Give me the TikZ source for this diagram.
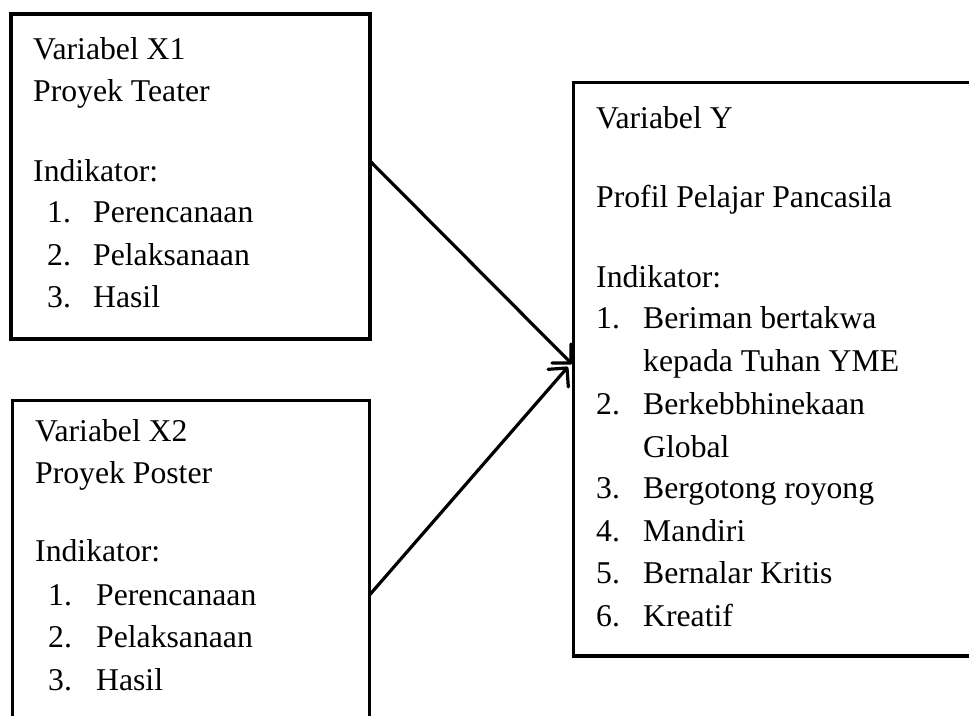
\documentclass[tikz,border=0pt]{standalone}
\usepackage{fontspec}
\setmainfont{Liberation Serif}
\usetikzlibrary{calc}
\begin{document}
\begin{tikzpicture}[x=1pt,y=-1pt,
  box/.style={draw,line width=3.2pt,inner sep=0pt,outer sep=0pt,anchor=north west},
  txt/.style={anchor=base west,inner sep=0pt,font=\fontsize{31.7}{38}\selectfont},
  conn/.style={line width=3.2pt},
  head/.style={line width=3.2pt,line join=round,line cap=round}]
\useasboundingbox (0,0) rectangle (969,715);
\begin{scope}
\clip (0,0) rectangle (969,715);
% boxes
\node[box,minimum width=359pt,minimum height=325pt] (x1) at (11,14) {};
\node[box,minimum width=357pt,minimum height=400pt] (x2) at (12.5,400.5) {};
\node[box,minimum width=420pt,minimum height=573.5pt] (y) at (573.5,82.5) {};
% X1 texts
\node[txt] (x1a) at (33,59) {Variabel X1};
\node[txt] (x1b) at (33,101) {Proyek Teater};
\node[txt] (x1c) at (33,181) {Indikator:};
\node[txt] (x1n1) at (47,222) {1.};
\node[txt] (x1i1) at (93,222) {Perencanaan};
\node[txt] (x1n2) at (47,265) {2.};
\node[txt] (x1i2) at (93,265) {Pelaksanaan};
\node[txt] (x1n3) at (47,307) {3.};
\node[txt] (x1i3) at (93,307) {Hasil};
% X2 texts
\node[txt] (x2a) at (35,441) {Variabel X2};
\node[txt] (x2b) at (35,483) {Proyek Poster};
\node[txt] (x2c) at (35,561) {Indikator:};
\node[txt] (x2n1) at (48,605) {1.};
\node[txt] (x2i1) at (96,605) {Perencanaan};
\node[txt] (x2n2) at (48,647) {2.};
\node[txt] (x2i2) at (96,647) {Pelaksanaan};
\node[txt] (x2n3) at (48,690) {3.};
\node[txt] (x2i3) at (96,690) {Hasil};
% Y texts
\node[txt] (ya) at (596,128) {Variabel Y};
\node[txt] (yb) at (596,207) {Profil Pelajar Pancasila};
\node[txt] (yc) at (596,287) {Indikator:};
\node[txt] (yn1) at (596,328) {1.};
\node[txt] (yi1) at (643,328) {Beriman bertakwa};
\node[txt] (yi1b) at (643,371) {kepada Tuhan YME};
\node[txt] (yn2) at (596,414) {2.};
\node[txt] (yi2) at (643,414) {Berkebbhinekaan};
\node[txt] (yi2b) at (643,457) {Global};
\node[txt] (yn3) at (596,498) {3.};
\node[txt] (yi3) at (643,498) {Bergotong royong};
\node[txt] (yn4) at (596,541) {4.};
\node[txt] (yi4) at (643,541) {Mandiri};
\node[txt] (yn5) at (596,583) {5.};
\node[txt] (yi5) at (643,583) {Bernalar Kritis};
\node[txt] (yn6) at (596,626) {6.};
\node[txt] (yi6) at (643,626) {Kreatif};
% connectors
\coordinate (s1) at (370,161);
\coordinate (e1) at (571,363);
\coordinate (s2) at (369.5,595);
\coordinate (e2) at (567,368);
\draw[conn] (s1) -- (e1);
\draw[head] ($(e1)!19pt!45:(s1)$) -- (e1) -- ($(e1)!19pt!-45:(s1)$);
\draw[conn] (s2) -- (e2);
\draw[head] ($(e2)!19pt!45:(s2)$) -- (e2) -- ($(e2)!19pt!-45:(s2)$);
\end{scope}
\end{tikzpicture}
\end{document}
